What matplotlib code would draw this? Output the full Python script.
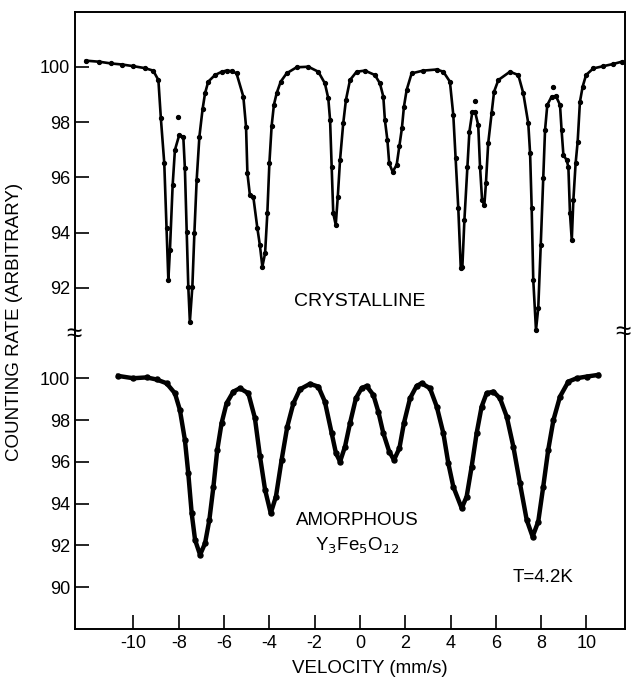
import numpy as np
import matplotlib.pyplot as plt

plt.rcParams['font.family'] = ['Liberation Sans', 'DejaVu Sans']

# crystalline spectrum (velocity mm/s, counting rate)
cryst_v = [-12.1, -11.5, -11.0, -10.5, -10.0, -9.5, -9.13, -8.90, -8.79, -8.64,
           -8.54, -8.46, -8.39, -8.27, -8.17, -7.98, -7.80, -7.73, -7.65, -7.58,
           -7.51, -7.40, -7.31, -7.21, -7.09, -6.95, -6.84, -6.70, -6.40, -6.10,
           -5.89, -5.65, -5.45, -5.15, -5.03, -4.97, -4.86, -4.71, -4.53, -4.42,
           -4.31, -4.19, -4.09, -4.00, -3.90, -3.80, -3.68, -3.50, -3.24, -2.80,
           -2.28, -1.84, -1.55, -1.40, -1.32, -1.25, -1.18, -1.07, -0.98, -0.88,
           -0.74, -0.62, -0.44, -0.15, 0.22, 0.66, 0.88, 1.03, 1.10, 1.21,
           1.29, 1.44, 1.62, 1.74, 1.85, 1.94, 2.06, 2.28, 2.79, 3.39,
           3.68, 3.97, 4.12, 4.22, 4.34, 4.45, 4.52, 4.61, 4.74, 4.83,
           4.96, 5.08, 5.22, 5.30, 5.39, 5.49, 5.56, 5.66, 5.81, 5.92,
           6.11, 6.62, 6.99, 7.21, 7.43, 7.51, 7.58, 7.65, 7.77, 7.87,
           7.98, 8.09, 8.17, 8.27, 8.46, 8.65, 8.83, 8.90, 8.98, 9.12,
           9.20, 9.27, 9.35, 9.42, 9.52, 9.61, 9.71, 9.83, 9.98, 10.30,
           10.74, 11.18, 11.55]
cryst_c = [100.22, 100.18, 100.12, 100.08, 100.02, 99.95, 99.86, 99.52, 98.13, 96.51,
           94.16, 92.29, 93.37, 95.72, 96.99, 97.53, 97.47, 96.33, 94.03, 92.05,
           90.78, 92.05, 94.00, 95.90, 97.47, 98.46, 99.04, 99.46, 99.70, 99.82,
           99.86, 99.84, 99.76, 98.92, 97.83, 96.15, 95.36, 95.30, 94.16, 93.55,
           92.77, 93.25, 94.70, 96.51, 97.86, 98.62, 99.04, 99.46, 99.76, 99.98,
           100.0, 99.82, 99.40, 98.86, 98.07, 96.38, 94.70, 94.28, 95.30, 96.63,
           97.95, 98.80, 99.52, 99.82, 99.86, 99.70, 99.40, 98.92, 98.07, 97.35,
           96.51, 96.20, 96.45, 97.13, 97.77, 98.55, 99.16, 99.76, 99.86, 99.90,
           99.82, 99.46, 98.25, 96.69, 94.88, 92.71, 92.77, 94.46, 96.38, 97.65,
           98.37, 98.37, 97.89, 96.38, 95.18, 95.00, 95.78, 97.23, 98.31, 99.10,
           99.52, 99.82, 99.70, 99.04, 97.95, 96.87, 94.88, 92.29, 90.48, 91.27,
           93.55, 95.97, 97.71, 98.62, 98.92, 98.94, 98.62, 97.71, 96.81, 96.63,
           96.38, 94.70, 93.73, 95.18, 96.51, 97.29, 98.73, 99.28, 99.70, 99.94,
           100.02, 100.10, 100.18]
# stray data points above the fitted curve
stray_v = [-8.02, 5.08, 8.54]
stray_c = [98.19, 98.76, 99.28]

# amorphous Y3Fe5O12
amor_v = [-10.67, -10.01, -9.42, -8.98, -8.54, -8.17, -7.95, -7.73, -7.58, -7.43,
          -7.28, -7.06, -6.84, -6.65, -6.47, -6.30, -6.11, -5.89, -5.59, -5.30,
          -4.93, -4.64, -4.42, -4.19, -3.94, -3.71, -3.46, -3.21, -2.94, -2.65,
          -2.21, -1.84, -1.55, -1.25, -1.06, -0.88, -0.66, -0.44, -0.18, 0.07,
          0.29, 0.59, 0.81, 1.03, 1.29, 1.50, 1.74, 1.94, 2.21, 2.50,
          2.72, 3.09, 3.39, 3.68, 3.90, 4.12, 4.49, 4.71, 4.93, 5.15,
          5.37, 5.59, 5.89, 6.18, 6.48, 6.77, 7.06, 7.36, 7.62, 7.87,
          8.09, 8.31, 8.54, 8.83, 9.20, 9.57, 10.01, 10.52]
amor_c = [100.11, 100.0, 100.04, 99.94, 99.76, 99.28, 98.48, 97.05, 95.45, 93.54,
          92.26, 91.55, 92.10, 93.22, 94.81, 96.57, 97.85, 98.80, 99.36, 99.52,
          99.28, 98.10, 96.30, 94.66, 93.54, 94.34, 96.09, 97.68, 98.80, 99.47,
          99.73, 99.60, 98.88, 97.37, 96.41, 96.01, 96.73, 97.85, 99.04, 99.52,
          99.63, 99.20, 98.40, 97.37, 96.49, 96.09, 96.65, 97.85, 99.04, 99.63,
          99.76, 99.52, 98.64, 97.37, 95.93, 94.81, 93.78, 94.34, 95.77, 97.37,
          98.64, 99.28, 99.36, 99.04, 98.16, 96.73, 94.98, 93.22, 92.42, 93.14,
          94.81, 96.57, 98.00, 99.12, 99.84, 100.0, 100.08, 100.16]

x_ticks = [-10, -8, -6, -4, -2, 0, 2, 4, 6, 8, 10]
top_ticks = [92, 94, 96, 98, 100]
bot_ticks = [90, 92, 94, 96, 98, 100]

fig = plt.figure(figsize=(6.31, 6.77), dpi=100)
ax_top = fig.add_axes([0.1189, 0.5052, 0.8716, 0.4771])
ax_bot = fig.add_axes([0.1189, 0.0709, 0.8716, 0.4343])

ax_top.plot(cryst_v, cryst_c, color='black', lw=1.9, marker='o', ms=2.8)
ax_top.plot(stray_v, stray_c, 'o', color='black', ms=2.8)
ax_bot.plot(amor_v, amor_c, color='black', lw=3.2, marker='o', ms=3.6)

for ax in (ax_top, ax_bot):
    ax.set_xlim(-12.58, 11.7)
    for s in ax.spines.values():
        s.set_linewidth(1.4)
    ax.tick_params(direction='in', length=10, width=1.2, labelsize=13,
                   right=False, top=False)

ax_top.set_ylim(90.3, 101.98)
ax_top.set_yticks(top_ticks)
ax_top.set_yticklabels([str(t) for t in top_ticks])
ax_top.spines['bottom'].set_visible(False)
ax_top.tick_params(bottom=False, labelbottom=False)

ax_bot.set_ylim(88.0, 102.07)
ax_bot.set_yticks(bot_ticks)
ax_bot.set_yticklabels([str(t) for t in bot_ticks])
ax_bot.spines['top'].set_visible(False)
ax_bot.set_xticks(x_ticks)
ax_bot.set_xticklabels([str(t) for t in x_ticks])
ax_bot.tick_params(axis='x', pad=4)

# break marks on both side axes
fig.text(0.1175, 0.5052, '≈', fontsize=20, ha='center', va='center')
fig.text(0.9875, 0.5081, '≈', fontsize=20, ha='center', va='center')

ax_top.text(0.0, 91.5, 'CRYSTALLINE', fontsize=14, ha='center', va='center')
ax_bot.text(-0.1, 93.2, 'AMORPHOUS', fontsize=13.5, ha='center', va='center')
ax_bot.text(-0.1, 92.0, r'Y$_3$Fe$_5$O$_{12}$', fontsize=13.5, ha='center', va='center')
ax_bot.text(8.1, 90.45, 'T=4.2K', fontsize=13.5, ha='center', va='center')

ax_bot.set_xlabel('VELOCITY (mm/s)', fontsize=13.5)
ax_bot.xaxis.set_label_coords(0.536, -0.105)
fig.text(0.023, 0.524, 'COUNTING RATE (ARBITRARY)', fontsize=13.5,
         rotation=90, ha='center', va='center')

fig.savefig('out.png', dpi=100)
